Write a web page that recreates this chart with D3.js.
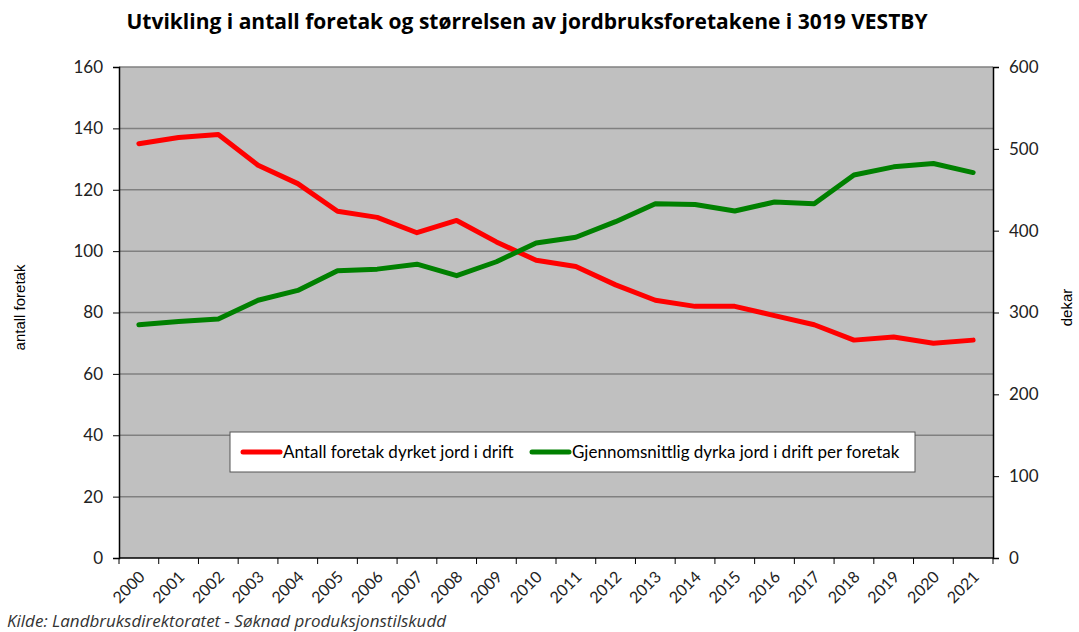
<!DOCTYPE html>
<html>
<head>
	<script src="https://d3js.org/d3.v7.min.js"></script>
	<title>Vestby foretak</title>
	<style>
		body { margin: 0; background: #fff; font-family: Lato, "Open Sans", sans-serif; }
	</style>
</head>
<body>
	<div id="chart"></div>
	<script>
		// data
		const years = ["2000","2001","2002","2003","2004","2005","2006","2007","2008","2009","2010",
			"2011","2012","2013","2014","2015","2016","2017","2018","2019","2020","2021"];
		const antallForetak = [135, 137, 138, 128, 122, 113, 111, 106, 110, 103, 97,
			95, 89, 84, 82, 82, 79, 76, 71, 72, 70, 71];
		const dekarPerForetak = [285, 289, 292, 315, 327, 351, 353, 359, 345, 362, 385,
			392, 411, 433, 432, 424, 435, 433, 468, 478, 482, 471];
		const leftTicks = [0, 20, 40, 60, 80, 100, 120, 140, 160];
		const rightTicks = [0, 100, 200, 300, 400, 500, 600];

		const W = 1079, H = 632;
		const margin = { top: 67, right: 86, bottom: 74, left: 119 };
		const width = W - margin.left - margin.right,
			height = H - margin.top - margin.bottom;

		const svg = d3.select("#chart").append("svg")
			.attr("width", W).attr("height", H);

		// title
		svg.append("text")
			.attr("x", 527).attr("y", 29)
			.attr("text-anchor", "middle")
			.style("font-family", "'Open Sans', sans-serif")
			.style("font-size", "21px").style("font-weight", "bold")
			.text("Utvikling i antall foretak og størrelsen av jordbruksforetakene i 3019 VESTBY");

		const g = svg.append("g").attr("transform", `translate(${margin.left},${margin.top})`);

		const x = d3.scaleBand().domain(years).range([0, width]);
		const yL = d3.scaleLinear().domain([0, 160]).range([height, 0]);
		const yR = d3.scaleLinear().domain([0, 600]).range([height, 0]);

		// plot background
		g.append("rect").attr("width", width).attr("height", height).attr("fill", "#c0c0c0");

		// gridlines
		g.selectAll(".grid").data(leftTicks.filter(d => d > 0)).enter()
			.append("line")
			.attr("x1", 0).attr("x2", width)
			.attr("y1", d => yL(d)).attr("y2", d => yL(d))
			.attr("stroke", "#808080").attr("stroke-width", 1.5);

		// left axis
		const axL = g.append("g")
			.call(d3.axisLeft(yL).tickValues(leftTicks).tickSize(6).tickPadding(10));
		axL.select(".domain").attr("stroke", "#000").attr("stroke-width", 1.5);
		axL.selectAll("text").style("font-size", "17px").attr("fill", "#222").style("font-family", "Lato, sans-serif");

		// right axis
		const axR = g.append("g").attr("transform", `translate(${width},0)`)
			.call(d3.axisRight(yR).tickValues(rightTicks).tickSize(6).tickPadding(10));
		axR.select(".domain").attr("stroke", "#000").attr("stroke-width", 1.5);
		axR.selectAll("text").style("font-size", "17px").attr("fill", "#222").style("font-family", "Lato, sans-serif");

		// x axis: ticks at band boundaries
		const axX = g.append("g").attr("transform", `translate(0,${height})`);
		axX.append("line").attr("x1", 0).attr("x2", width).attr("stroke", "#000").attr("stroke-width", 1.5);
		axX.selectAll(".tk").data(years.concat(["end"])).enter()
			.append("line")
			.attr("x1", (d, i) => i * x.step()).attr("x2", (d, i) => i * x.step())
			.attr("y1", 0).attr("y2", 6)
			.attr("stroke", "#000");
		axX.selectAll(".lbl").data(years).enter()
			.append("text")
			.attr("transform", d => `translate(${x(d) + x.bandwidth() / 2 - 1},${12}) rotate(-45)`)
			.attr("text-anchor", "end")
			.attr("dy", "0.7em")
			.style("font-size", "16px").attr("fill", "#222")
			.text(d => d);

		// axis titles
		svg.append("text")
			.attr("transform", `translate(25,${margin.top + height / 2 - 5}) rotate(-90)`)
			.attr("text-anchor", "middle")
			.style("font-family", "'Liberation Sans', Arial, sans-serif")
			.style("font-size", "15px")
			.text("antall foretak");
		svg.append("text")
			.attr("transform", `translate(1072,${margin.top + height / 2 - 5}) rotate(-90)`)
			.attr("text-anchor", "middle")
			.style("font-family", "'Liberation Sans', Arial, sans-serif")
			.style("font-size", "15px")
			.text("dekar");

		// lines
		const lineL = d3.line().x((d, i) => x(years[i]) + x.bandwidth() / 2).y(d => yL(d));
		const lineR = d3.line().x((d, i) => x(years[i]) + x.bandwidth() / 2).y(d => yR(d));

		g.append("path").datum(antallForetak)
			.attr("d", lineL).attr("fill", "none")
			.attr("stroke", "#ff0000").attr("stroke-width", 5)
			.attr("stroke-linejoin", "round").attr("stroke-linecap", "round");
		g.append("path").datum(dekarPerForetak)
			.attr("d", lineR).attr("fill", "none")
			.attr("stroke", "#008000").attr("stroke-width", 5)
			.attr("stroke-linejoin", "round").attr("stroke-linecap", "round");

		// legend
		const leg = svg.append("g").attr("transform", "translate(230,432)");
		leg.append("rect").attr("width", 685).attr("height", 40)
			.attr("fill", "#fff").attr("stroke", "#555").attr("stroke-width", 1);
		const items = [
			{ label: "Antall foretak dyrket jord i drift", color: "#ff0000", x: 13 },
			{ label: "Gjennomsnittlig dyrka jord i drift per foretak", color: "#008000", x: 302 }
		];
		items.forEach(it => {
			leg.append("line").attr("x1", it.x).attr("x2", it.x + 37).attr("y1", 20).attr("y2", 20)
				.attr("stroke", it.color).attr("stroke-width", 5).attr("stroke-linecap", "round");
			leg.append("text").attr("x", it.x + 40).attr("y", 20).attr("dy", "0.35em")
				.style("font-size", "17px").text(it.label);
		});

		// source
		svg.append("text")
			.attr("x", 7).attr("y", 627)
			.style("font-family", "'Open Sans', sans-serif")
			.style("font-size", "17px").style("font-style", "italic").attr("fill", "#333")
			.text("Kilde: Landbruksdirektoratet - Søknad produksjonstilskudd");
	</script>
</body>
</html>
